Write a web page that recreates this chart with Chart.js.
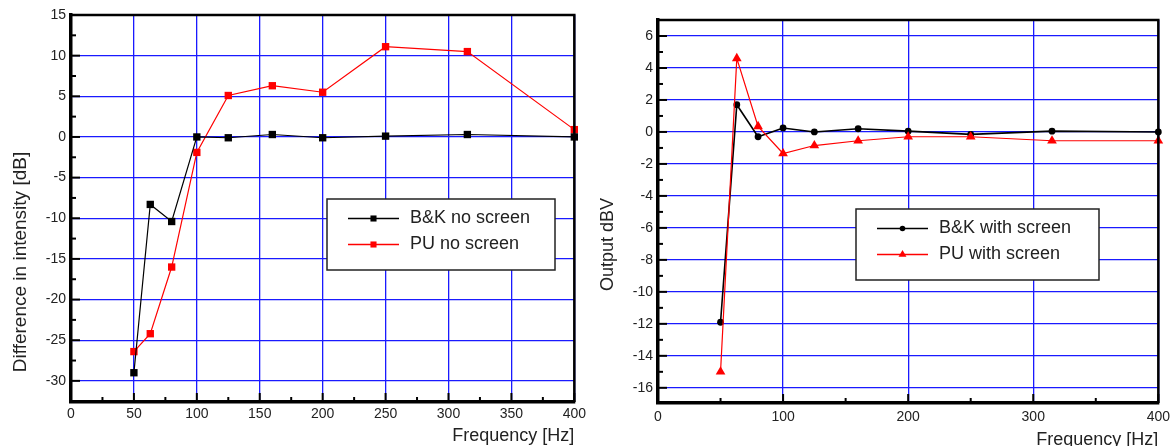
<!DOCTYPE html>
<html>
<head>
<meta charset="utf-8">
<script src="https://cdn.jsdelivr.net/npm/chart.js@4.4.1/dist/chart.umd.min.js"></script>
<style>
    html, body { margin: 0; padding: 0; background: #fff; overflow: hidden; }
    #graficoEsq { position: absolute; left: 0; top: 0; }
    #graficoDir { position: absolute; left: 590px; top: 0; }
</style>
</head>
<body>
<canvas id="graficoEsq" width="590" height="446"></canvas>
<canvas id="graficoDir" width="586" height="446"></canvas>
<script>
const frequencias = [50, 63, 80, 100, 125, 160, 200, 250, 315, 400];

const bkSemTela = [-29, -8.3, -10.4, 0, -0.1, 0.3, -0.1, 0.1, 0.3, 0];
const puSemTela = [-26.4, -24.2, -16, -1.9, 5.1, 6.3, 5.5, 11.1, 10.5, 0.9];

const bkComTela = [-11.9, 1.7, -0.3, 0.25, 0, 0.2, 0.05, -0.15, 0.05, 0];
const puComTela = [-15, 4.6, 0.35, -1.35, -0.85, -0.55, -0.3, -0.3, -0.55, -0.55];

const fonte = "'Liberation Sans', Arial, sans-serif";
const azul = '#1a1aff';
const corTexto = '#222';

function pontos(valores) {
    return frequencias.map((f, i) => ({ x: f, y: valores[i] }));
}

// major and minor tick marks (pointing into the plot)
function marcas(ticks) {
    const lista = [];
    ticks.forEach((t, i) => {
        lista.push({ v: t.value, len: 9 });
        if (i < ticks.length - 1) {
            lista.push({ v: (t.value + ticks[i + 1].value) / 2, len: 5 });
        }
    });
    return lista;
}

function desenharMarcador(ctx, estilo, r, x, y) {
    ctx.beginPath();
    if (estilo === 'rect') {
        const s = r * Math.SQRT1_2;
        ctx.rect(x - s, y - s, 2 * s, 2 * s);
    } else if (estilo === 'triangle') {
        for (let k = 0; k < 3; k++) {
            const ang = k * 2 * Math.PI / 3;
            const px = x + Math.sin(ang) * r;
            const py = y - Math.cos(ang) * r;
            if (k === 0) ctx.moveTo(px, py); else ctx.lineTo(px, py);
        }
        ctx.closePath();
    } else {
        ctx.arc(x, y, r, 0, 2 * Math.PI);
    }
    ctx.fill();
}

const moldura = {
    id: 'moldura',
    afterDraw(chart, args, opts) {
        const ctx = chart.ctx;
        const a = chart.chartArea;
        const sx = chart.scales.x;
        const sy = chart.scales.y;

        ctx.save();
        ctx.strokeStyle = '#000';
        ctx.lineWidth = 2;
        marcas(sx.ticks).forEach(m => {
            const px = sx.getPixelForValue(m.v);
            ctx.beginPath();
            ctx.moveTo(px, a.bottom);
            ctx.lineTo(px, a.bottom - m.len);
            ctx.stroke();
        });
        marcas(sy.ticks).forEach(m => {
            const py = sy.getPixelForValue(m.v);
            ctx.beginPath();
            ctx.moveTo(a.left, py);
            ctx.lineTo(a.left + m.len, py);
            ctx.stroke();
        });

        // top and right border
        ctx.lineWidth = 2.5;
        ctx.beginPath();
        ctx.moveTo(a.left, a.top);
        ctx.lineTo(a.right, a.top);
        ctx.lineTo(a.right, a.bottom);
        ctx.stroke();

        // legend box
        const c = opts.caixa;
        ctx.fillStyle = '#fff';
        ctx.fillRect(c.x, c.y, c.w, c.h);
        ctx.strokeStyle = '#222';
        ctx.lineWidth = 1.5;
        ctx.strokeRect(c.x, c.y, c.w, c.h);
        ctx.font = '18px ' + fonte;
        ctx.textBaseline = 'middle';
        ctx.textAlign = 'left';
        chart.data.datasets.forEach((ds, i) => {
            const yy = c.y + 19.5 + i * 26;
            ctx.strokeStyle = ds.borderColor;
            ctx.lineWidth = 1.3;
            ctx.beginPath();
            ctx.moveTo(c.x + 21, yy);
            ctx.lineTo(c.x + 72, yy);
            ctx.stroke();
            ctx.fillStyle = ds.backgroundColor;
            desenharMarcador(ctx, ds.pointStyle, opts.raioLegenda[ds.pointStyle], c.x + 46.5, yy);
            ctx.fillStyle = corTexto;
            ctx.fillText(ds.label, c.x + 83, yy);
        });

        // y title
        const t = opts.tituloY;
        ctx.translate(t.x, t.y);
        ctx.rotate(-Math.PI / 2);
        ctx.font = t.tamanho + 'px ' + fonte;
        ctx.textAlign = 'center';
        ctx.textBaseline = 'middle';
        ctx.fillStyle = corTexto;
        ctx.fillText(t.texto, 0, 0);
        ctx.restore();
    }
};

function eixoX(max, passo, altura, padTitulo, padTicks) {
    return {
        type: 'linear',
        min: 0,
        max: max,
        ticks: { stepSize: passo, padding: padTicks, color: corTexto, font: { family: fonte, size: 14 } },
        grid: { color: azul, lineWidth: 1.3, drawTicks: false },
        border: { color: '#000', width: 3.5 },
        title: {
            display: true,
            text: 'Frequency [Hz]',
            align: 'end',
            color: corTexto,
            font: { family: fonte, size: 18, lineHeight: 1 },
            padding: { top: 0, bottom: padTitulo }
        },
        afterFit: s => { s.height = altura; }
    };
}

function eixoY(min, max, passo, largura) {
    return {
        min: min,
        max: max,
        ticks: { stepSize: passo, includeBounds: false, padding: 5, color: corTexto, font: { family: fonte, size: 14 } },
        grid: { color: azul, lineWidth: 1.3, drawTicks: false },
        border: { color: '#000', width: 3.5 },
        afterFit: s => { s.width = largura; }
    };
}

function graficoSemTela() {
    new Chart(document.getElementById('graficoEsq'), {
        type: 'line',
        data: {
            datasets: [{
                label: 'B&K no screen',
                data: pontos(bkSemTela),
                borderColor: '#000',
                backgroundColor: '#000',
                borderWidth: 1.2,
                pointStyle: 'rect',
                pointRadius: 5.2,
                pointBorderWidth: 0,
                clip: false
            }, {
                label: 'PU no screen',
                data: pontos(puSemTela),
                borderColor: '#ff0000',
                backgroundColor: '#ff0000',
                borderWidth: 1.2,
                pointStyle: 'rect',
                pointRadius: 5.2,
                pointBorderWidth: 0,
                clip: false
            }]
        },
        options: {
            responsive: false,
            animation: false,
            layout: { padding: { top: 15, right: 15, left: 0, bottom: 0 } },
            plugins: {
                legend: { display: false },
                tooltip: { enabled: false },
                moldura: {
                    caixa: { x: 327, y: 199, w: 228, h: 71 },
                    raioLegenda: { rect: 4.3 },
                    tituloY: { texto: 'Difference in intensity [dB]', x: 21, y: 262, tamanho: 19 }
                }
            },
            scales: {
                x: eixoX(400, 50, 44, 0.5, 4),
                y: eixoY(-32.6, 15, 5, 71)
            }
        },
        plugins: [moldura]
    });
}

function graficoComTela() {
    new Chart(document.getElementById('graficoDir'), {
        type: 'line',
        data: {
            datasets: [{
                label: 'B&K with screen',
                data: pontos(bkComTela),
                borderColor: '#000',
                backgroundColor: '#000',
                borderWidth: 1.6,
                pointStyle: 'circle',
                pointRadius: 3.4,
                pointBorderWidth: 0,
                order: 1,
                clip: false
            }, {
                label: 'PU with screen',
                data: pontos(puComTela),
                borderColor: '#ff0000',
                backgroundColor: '#ff0000',
                borderWidth: 1.2,
                pointStyle: 'triangle',
                pointRadius: 5.6,
                pointBorderWidth: 0,
                order: 0,
                clip: false
            }]
        },
        options: {
            responsive: false,
            animation: false,
            layout: { padding: { top: 20, right: 17, left: 0, bottom: 0 } },
            plugins: {
                legend: { display: false },
                tooltip: { enabled: false },
                moldura: {
                    caixa: { x: 266, y: 209, w: 243, h: 71 },
                    raioLegenda: { circle: 2.8, triangle: 4.6 },
                    tituloY: { texto: 'Output dBV', x: 18, y: 244.5, tamanho: 18 }
                }
            },
            scales: {
                x: eixoX(400, 100, 43, -3, 6),
                y: eixoY(-16.95, 7, 2, 68)
            }
        },
        plugins: [moldura]
    });
}

graficoSemTela();
graficoComTela();
</script>
</body>
</html>
